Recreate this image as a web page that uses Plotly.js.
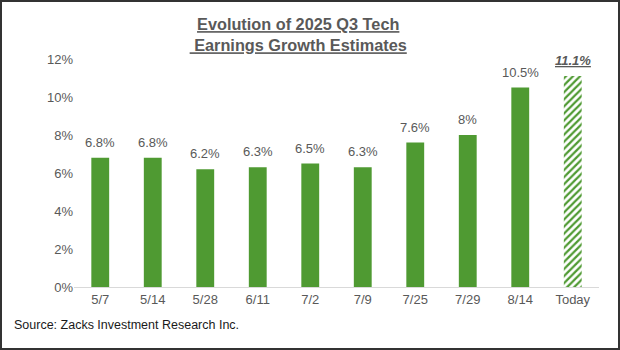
<!DOCTYPE html>
<html>
<head>
<meta charset="utf-8">
<script src="https://cdn.plot.ly/plotly-3.0.1.min.js"></script>
<style>
html,body{margin:0;padding:0;background:#fff;}
#wrap{position:relative;width:620px;height:350px;}
#chart{position:absolute;left:0;top:0;width:620px;height:350px;}
#frame{position:absolute;left:0;top:0;width:620px;height:350px;box-sizing:border-box;border:2px solid #333;pointer-events:none;}
</style>
</head>
<body>
<div id="wrap"><div id="chart"></div><div id="frame"></div></div>
<script>
const categories = ["5/7","5/14","5/28","6/11","7/2","7/9","7/25","7/29","8/14","Today"];
const values = [6.8, 6.8, 6.2, 6.3, 6.5, 6.3, 7.6, 8.0, 10.5, 11.1];
const labels = ["6.8%","6.8%","6.2%","6.3%","6.5%","6.3%","7.6%","8%","10.5%","<b><i><u>11.1%</u></i></b>"];
const tickVals = [0, 2, 4, 6, 8, 10, 12];
const tickText = ["0%","2%","4%","6%","8%","10%","12%"];

const green = "#4f9a32";
const n = categories.length;
const shapes = categories.map((c, i) => i === n - 1 ? "/" : "");
const bgs = categories.map((c, i) => i === n - 1 ? "#ffffff" : green);
const fgs = categories.map(() => green);
const fontFam = "Arial, Liberation Sans, sans-serif";

const trace = {
  type: "bar",
  x: categories,
  y: values,
  cliponaxis: false,
  marker: {
    color: green,
    line: {width: 0},
    pattern: {shape: shapes, bgcolor: bgs, fgcolor: fgs, size: 5, solidity: 0.45, fillmode: "replace"}
  },
  hoverinfo: "skip"
};

const labelAnns = categories.map((c, i) => ({
  x: c, y: values[i], xref: "x", yref: "y",
  text: labels[i], showarrow: false,
  xanchor: "center", yanchor: "bottom", yshift: 6,
  font: {family: fontFam, size: 13, color: "#595959"}
}));

const layout = {
  width: 620, height: 350,
  margin: {l: 74, r: 21, t: 59, b: 63},
  paper_bgcolor: "#ffffff", plot_bgcolor: "#ffffff",
  bargap: 0.66,
  showlegend: false,
  font: {family: fontFam, color: "#595959"},
  title: {
    text: "<b><u>Evolution of 2025 Q3 Tech</u></b><br><b><u> Earnings Growth Estimates</u></b>",
    font: {family: fontFam, size: 16.3, color: "#595959"},
    x: 0.481, xref: "container", xanchor: "center",
    y: 0.914, yref: "container", yanchor: "top"
  },
  xaxis: {
    type: "category",
    showline: true, linecolor: "#d9d9d9", linewidth: 1,
    ticks: "", showgrid: false, zeroline: false,
    tickfont: {family: fontFam, size: 13, color: "#595959"}
  },
  yaxis: {
    range: [0, 12],
    tickvals: tickVals, ticktext: tickText,
    showgrid: false, zeroline: false, showline: false,
    ticks: "", ticklen: 0,
    tickfont: {family: fontFam, size: 13, color: "#595959"}
  },
  annotations: labelAnns.concat([{
    text: "Source: Zacks Investment Research Inc.",
    xref: "paper", yref: "paper",
    x: (12 - 74) / 525, y: -0.165,
    xanchor: "left", yanchor: "middle", showarrow: false,
    font: {family: fontFam, size: 12.5, color: "#1a1a1a"}
  }])
};

Plotly.newPlot("chart", [trace], layout, {displayModeBar: false, staticPlot: true});
</script>
</body>
</html>
